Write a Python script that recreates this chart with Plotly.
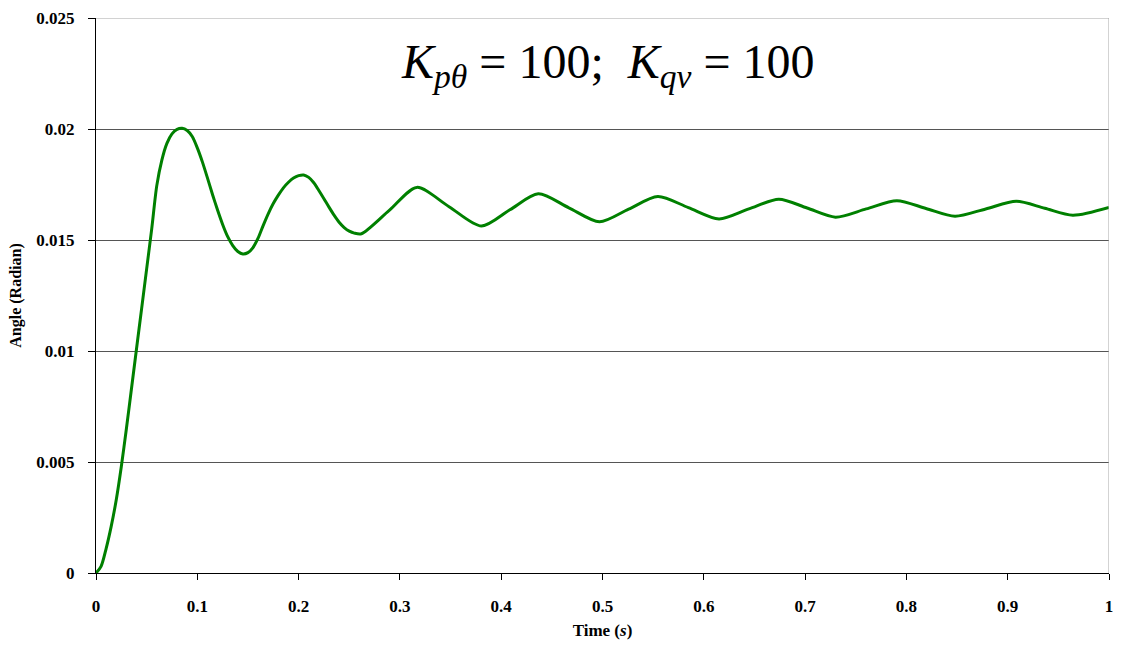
import plotly.graph_objects as go

# Time (s) and angle (rad)
time_s = [0.000, 0.005, 0.010, 0.015, 0.020, 0.025, 0.030, 0.035, 0.040, 0.045,
          0.050, 0.055, 0.060, 0.065, 0.070, 0.075, 0.080, 0.085, 0.090, 0.095,
          0.100, 0.105, 0.110, 0.115, 0.120, 0.125, 0.130, 0.135, 0.140, 0.145,
          0.150, 0.155, 0.160, 0.165, 0.170, 0.175, 0.180, 0.185, 0.190, 0.195,
          0.200, 0.205, 0.210, 0.215, 0.220, 0.225, 0.230, 0.235, 0.240, 0.245,
          0.250, 0.255, 0.262, 0.2895, 0.3166, 0.3485, 0.3805, 0.4085, 0.4366, 0.4668,
          0.497, 0.5258, 0.5546, 0.5848, 0.615, 0.6445, 0.674, 0.702, 0.730, 0.7603,
          0.7906, 0.8193, 0.848, 0.8783, 0.9086, 0.9365, 0.9643, 1.0]
angle_rad = [0.0, 0.0003, 0.0011, 0.0021, 0.0033, 0.0048, 0.0065, 0.0083, 0.0101, 0.0119,
             0.0137, 0.0155, 0.01745, 0.0186, 0.01935, 0.01978, 0.01998, 0.02003, 0.01993, 0.01966,
             0.01915, 0.01852, 0.01780, 0.01705, 0.01635, 0.01570, 0.01515, 0.01475, 0.01448, 0.01437,
             0.01443, 0.01466, 0.01508, 0.01565, 0.01618, 0.01664, 0.01702, 0.01735, 0.01760, 0.01779,
             0.01790, 0.01793, 0.01782, 0.01758, 0.01723, 0.01686, 0.01648, 0.01612, 0.01580, 0.01556,
             0.01540, 0.01531, 0.01528, 0.01633, 0.01737, 0.0165, 0.01563, 0.01636, 0.01708, 0.01645,
             0.01582, 0.01639, 0.01696, 0.01646, 0.01595, 0.0164, 0.01684, 0.01644, 0.01603, 0.0164,
             0.01677, 0.01642, 0.01607, 0.0164, 0.01674, 0.01643, 0.01612, 0.01647]

x_ticks = [0, 0.1, 0.2, 0.3, 0.4, 0.5, 0.6, 0.7, 0.8, 0.9, 1]
x_tick_text = ["0", "0.1", "0.2", "0.3", "0.4", "0.5", "0.6", "0.7", "0.8", "0.9", "1"]
y_ticks = [0, 0.005, 0.01, 0.015, 0.02, 0.025]
y_tick_text = ["0", "0.005", "0.01", "0.015", "0.02", "0.025"]

FONT = "Liberation Serif"

fig = go.Figure()
fig.add_trace(go.Scatter(
    x=time_s, y=angle_rad, mode="lines",
    line=dict(color="#008000", width=3, shape="spline", smoothing=0.8),
    showlegend=False, hoverinfo="skip"))

fig.update_layout(
    width=1122, height=645,
    margin=dict(l=96, r=9, t=15, b=70),
    paper_bgcolor="white", plot_bgcolor="white",
    font=dict(family=FONT, color="black"),
    xaxis=dict(
        range=[0, 1], tickvals=x_ticks, ticktext=x_tick_text,
        showgrid=False, zeroline=False,
        showline=True, linecolor="black", linewidth=1,
        ticks="outside", ticklen=6, tickcolor="black", tickwidth=1,
        ticklabelstandoff=12,
        tickfont=dict(family=FONT, size=17, color="black", weight="bold"),
        title=dict(text="<b>Time (<i>s</i>)</b>", font=dict(family=FONT, size=17, color="black"),
                   standoff=8),
    ),
    yaxis=dict(
        range=[0, 0.025], tickvals=y_ticks, ticktext=y_tick_text,
        showgrid=True, gridcolor="#555555", gridwidth=1,
        zeroline=False,
        showline=True, linecolor="black", linewidth=1,
        ticks="outside", ticklen=7, tickcolor="black", tickwidth=1,
        ticklabelstandoff=10,
        tickfont=dict(family=FONT, size=17, color="black", weight="bold"),
        title=dict(text="<b>Angle (Radian)</b>", font=dict(family=FONT, size=16, color="black"),
                   standoff=10),
    ),
    annotations=[dict(
        x=0.505, y=0.0229, xref="x", yref="y", showarrow=False,
        text="<i>K</i><sub><i>pθ</i></sub> = 100;  <i>K</i><sub><i>qv</i></sub> = 100",
        font=dict(family=FONT, size=48, color="black"),
        xanchor="center", yanchor="middle")],
    shapes=[
        dict(type="line", xref="paper", yref="y", x0=0, x1=1, y0=0.025, y1=0.025,
             line=dict(color="#a6a6a6", width=1), layer="above"),
        dict(type="line", xref="x", yref="paper", x0=1, x1=1, y0=0, y1=1,
             line=dict(color="#a6a6a6", width=1), layer="above"),
    ],
)

fig.write_html("out.html")
